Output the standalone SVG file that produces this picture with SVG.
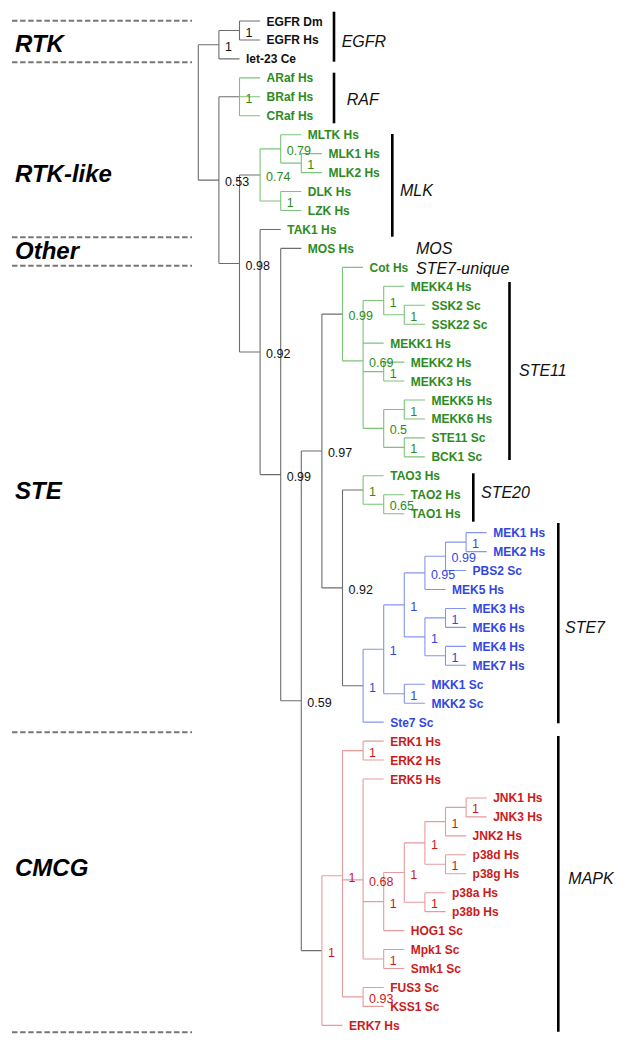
<svg xmlns="http://www.w3.org/2000/svg" width="629" height="1048" viewBox="0 0 629 1048">
<style>
.tr{fill:none;stroke-width:1.1}
.g0{stroke:#6e6e6e}.gG{stroke:#7cc47a}.gB{stroke:#8595ee}.gR{stroke:#e79a9c}
.lf{font-family:"Liberation Sans",Arial,sans-serif;font-size:12px;font-weight:bold}
.lb{font-family:"Liberation Sans",Arial,sans-serif;font-size:12.5px}
.kB{fill:#111}.kG{fill:#2e8b22}.kU{fill:#3347e0}.kR{fill:#cc1a1a}
.cl{font-family:"Liberation Sans",Arial,sans-serif;font-size:16px;font-style:italic;fill:#111}
.ct{font-family:"Liberation Sans",Arial,sans-serif;font-size:24px;font-style:italic;font-weight:bold;fill:#000}
.dash{stroke:#777;stroke-width:2;stroke-dasharray:5.5 2.6;fill:none}
.bar{stroke:#000;stroke-width:2.6;fill:none}
</style>
<g id="separators">
<path class="dash" d="M12 20.7H192M12 62.3H192M12 237.3H192M12 265.7H192M12 732.3H192M12 1032.3H192"/>
</g>
<g id="categories">
<text class="ct" x="15" y="52">RTK</text>
<text class="ct" x="15" y="182">RTK-like</text>
<text class="ct" x="15" y="259">Other</text>
<text class="ct" x="15" y="499">STE</text>
<text class="ct" x="15" y="876">CMCG</text>
</g>
<g id="connectors">
<path class="tr g0" d="M198.3 44.7V180.15M198.3 44.7H218.9M198.3 180.15H218.9
M218.9 30.5V58.9M218.9 30.5H239.5M218.9 58.9H239.5
M239.5 21V39.95M239.5 21H260.1M239.5 39.95H260.1
M218.9 96.8V263.5M218.9 96.8H239.5M218.9 263.5H239.5
M239.5 174.95V352M239.5 174.95H260.1M239.5 352H260.1
M260.1 229.45V474.6M260.1 229.45H280.7M260.1 474.6H280.7
M280.7 248.4V700.8M280.7 248.4H301.3M280.7 700.8H301.3
M301.3 451V950.6M301.3 451H321.9M301.3 950.6H321.9
M321.9 314.1V587.9M321.9 314.1H342.5M321.9 587.9H342.5
M342.5 490V685.7M342.5 490H363.1M342.5 685.7H363.1"/>
<path class="tr gG" d="M239.5 77.85V115.75M239.5 77.85H260.1M239.5 96.8H260.1M239.5 115.75H260.1
M260.1 148.9V201M260.1 148.9H280.7M260.1 201H280.7
M280.7 134.7V163.1M280.7 134.7H301.3M280.7 163.1H301.3
M301.3 153.65V172.6M301.3 153.65H321.9M301.3 172.6H321.9
M280.7 191.55V210.5M280.7 191.55H301.3M280.7 210.5H301.3
M342.5 267.35V360.9M342.5 267.35H363.1M342.5 360.9H363.1
M363.1 300.5V428.4M363.1 300.5H383.7M363.1 343.15H383.7M363.1 371.6H383.7M363.1 428.4H383.7
M383.7 286.3V314.7M383.7 286.3H404.3M383.7 314.7H404.3
M404.3 305.25V324.2M404.3 305.25H424.9M404.3 324.2H424.9
M383.7 362.1V381.05M383.7 362.1H404.3M383.7 381.05H404.3
M383.7 409.5V447.4M383.7 409.5H404.3M383.7 447.4H404.3
M404.3 400V418.95M404.3 400H424.9M404.3 418.95H424.9
M404.3 437.9V456.85M404.3 437.9H424.9M404.3 456.85H424.9
M363.1 475.8V504.2M363.1 475.8H383.7M363.1 504.2H383.7
M383.7 494.75V513.7M383.7 494.75H404.3M383.7 513.7H404.3"/>
<path class="tr gB" d="M363.1 649.3V722.15M363.1 649.3H383.7M363.1 722.15H383.7
M383.7 604.9V693.7M383.7 604.9H404.3M383.7 693.7H404.3
M404.3 684.25V703.2M404.3 684.25H424.9M404.3 703.2H424.9
M404.3 572.9V636.9M404.3 572.9H424.9M404.3 636.9H424.9
M424.9 556.3V589.5M424.9 556.3H445.5M424.9 589.5H445.5
M445.5 542.1V570.55M445.5 542.1H466.1M445.5 570.55H466.1
M466.1 532.65V551.6M466.1 532.65H486.7M466.1 551.6H486.7
M424.9 617.9V655.8M424.9 617.9H445.5M424.9 655.8H445.5
M445.5 608.45V627.4M445.5 608.45H466.1M445.5 627.4H466.1
M445.5 646.35V665.3M445.5 646.35H466.1M445.5 665.3H466.1"/>
<path class="tr gR" d="M321.9 875.8V1025.35M321.9 875.8H342.5M321.9 1025.35H342.5
M342.5 750.6V996.9M342.5 750.6H363.1M342.5 879.9H363.1M342.5 996.9H363.1
M363.1 741.1V760.05M363.1 741.1H383.7M363.1 760.05H383.7
M363.1 779V959M363.1 779H383.7M363.1 901.6H383.7M363.1 959H383.7
M383.7 872.5V930.6M383.7 872.5H404.3M383.7 930.6H404.3
M404.3 842.9V902.2M404.3 842.9H424.9M404.3 902.2H424.9
M424.9 821.6V864.3M424.9 821.6H445.5M424.9 864.3H445.5
M445.5 807.4V835.85M445.5 807.4H466.1M445.5 835.85H466.1
M466.1 797.95V816.9M466.1 797.95H486.7M466.1 816.9H486.7
M445.5 854.8V873.75M445.5 854.8H466.1M445.5 873.75H466.1
M424.9 892.7V911.65M424.9 892.7H445.5M424.9 911.65H445.5
M383.7 949.55V968.5M383.7 949.55H404.3M383.7 968.5H404.3
M363.1 987.45V1006.4M363.1 987.45H383.7M363.1 1006.4H383.7"/>
</g>
<g id="support-values" class="lb">
<text class="kB" x="245.5" y="36.5">1</text>
<text class="kB" x="224.9" y="50.7">1</text>
<text class="kB" x="224.9" y="186.15">0.53</text>
<text class="kB" x="245.5" y="269.5">0.98</text>
<text class="kB" x="266.1" y="358">0.92</text>
<text class="kB" x="286.7" y="480.6">0.99</text>
<text class="kB" x="307.3" y="706.8">0.59</text>
<text class="kB" x="327.9" y="457">0.97</text>
<text class="kB" x="348.5" y="593.9">0.92</text>
<text class="kG" x="245.5" y="102.8">1</text>
<text class="kG" x="266.1" y="180.95">0.74</text>
<text class="kG" x="286.7" y="154.9">0.79</text>
<text class="kG" x="307.3" y="169.1">1</text>
<text class="kG" x="286.7" y="207">1</text>
<text class="kG" x="348.5" y="320.1">0.99</text>
<text class="kG" x="369.1" y="366.9">0.69</text>
<text class="kG" x="389.7" y="306.5">1</text>
<text class="kG" x="410.3" y="320.7">1</text>
<text class="kG" x="389.7" y="377.6">1</text>
<text class="kG" x="389.7" y="434.4">0.5</text>
<text class="kG" x="410.3" y="415.5">1</text>
<text class="kG" x="410.3" y="453.4">1</text>
<text class="kG" x="369.1" y="496">1</text>
<text class="kG" x="389.7" y="510.2">0.65</text>
<text class="kU" x="369.1" y="691.7">1</text>
<text class="kU" x="389.7" y="655.3">1</text>
<text class="kU" x="410.3" y="699.7">1</text>
<text class="kU" x="410.3" y="610.9">1</text>
<text class="kU" x="430.9" y="578.9">0.95</text>
<text class="kU" x="451.5" y="562.3">0.99</text>
<text class="kU" x="472.1" y="548.1">1</text>
<text class="kU" x="430.9" y="642.9">1</text>
<text class="kU" x="451.5" y="623.9">1</text>
<text class="kU" x="451.5" y="661.8">1</text>
<text class="kR" x="327.9" y="956.6">1</text>
<text class="kR" x="348.5" y="881.8">1</text>
<text class="kR" x="369.1" y="756.6">1</text>
<text class="kR" x="369.1" y="885.9">0.68</text>
<text class="kR" x="389.7" y="907.6">1</text>
<text class="kR" x="410.3" y="878.5">1</text>
<text class="kR" x="430.9" y="848.9">1</text>
<text class="kR" x="451.5" y="827.6">1</text>
<text class="kR" x="472.1" y="813.4">1</text>
<text class="kR" x="451.5" y="870.3">1</text>
<text class="kR" x="430.9" y="908.2">1</text>
<text class="kR" x="389.7" y="965">1</text>
<text class="kR" x="369.1" y="1002.9">0.93</text>
</g>
<g id="leaves" class="lf">
<g id="leaf-egfr-dm"><text class="kB" x="266.6" y="25.5">EGFR Dm</text></g>
<g id="leaf-egfr-hs"><text class="kB" x="266.6" y="44.45">EGFR Hs</text></g>
<g id="leaf-let23"><text class="kB" x="246" y="63.4">let-23 Ce</text></g>
<g id="leaf-araf"><text class="kG" x="266.6" y="82.35">ARaf Hs</text></g>
<g id="leaf-braf"><text class="kG" x="266.6" y="101.3">BRaf Hs</text></g>
<g id="leaf-craf"><text class="kG" x="266.6" y="120.25">CRaf Hs</text></g>
<g id="leaf-mltk"><text class="kG" x="307.8" y="139.2">MLTK Hs</text></g>
<g id="leaf-mlk1"><text class="kG" x="328.4" y="158.15">MLK1 Hs</text></g>
<g id="leaf-mlk2"><text class="kG" x="328.4" y="177.1">MLK2 Hs</text></g>
<g id="leaf-dlk"><text class="kG" x="307.8" y="196.05">DLK Hs</text></g>
<g id="leaf-lzk"><text class="kG" x="307.8" y="215">LZK Hs</text></g>
<g id="leaf-tak1"><text class="kG" x="287.2" y="233.95">TAK1 Hs</text></g>
<g id="leaf-mos"><text class="kG" x="307.8" y="252.9">MOS Hs</text></g>
<g id="leaf-cot"><text class="kG" x="369.6" y="271.85">Cot Hs</text></g>
<g id="leaf-mekk4"><text class="kG" x="410.8" y="290.8">MEKK4 Hs</text></g>
<g id="leaf-ssk2"><text class="kG" x="431.4" y="309.75">SSK2 Sc</text></g>
<g id="leaf-ssk22"><text class="kG" x="431.4" y="328.7">SSK22 Sc</text></g>
<g id="leaf-mekk1"><text class="kG" x="390.2" y="347.65">MEKK1 Hs</text></g>
<g id="leaf-mekk2"><text class="kG" x="410.8" y="366.6">MEKK2 Hs</text></g>
<g id="leaf-mekk3"><text class="kG" x="410.8" y="385.55">MEKK3 Hs</text></g>
<g id="leaf-mekk5"><text class="kG" x="431.4" y="404.5">MEKK5 Hs</text></g>
<g id="leaf-mekk6"><text class="kG" x="431.4" y="423.45">MEKK6 Hs</text></g>
<g id="leaf-ste11"><text class="kG" x="431.4" y="442.4">STE11 Sc</text></g>
<g id="leaf-bck1"><text class="kG" x="431.4" y="461.35">BCK1 Sc</text></g>
<g id="leaf-tao3"><text class="kG" x="390.2" y="480.3">TAO3 Hs</text></g>
<g id="leaf-tao2"><text class="kG" x="410.8" y="499.25">TAO2 Hs</text></g>
<g id="leaf-tao1"><text class="kG" x="410.8" y="518.2">TAO1 Hs</text></g>
<g id="leaf-mek1"><text class="kU" x="493.2" y="537.15">MEK1 Hs</text></g>
<g id="leaf-mek2"><text class="kU" x="493.2" y="556.1">MEK2 Hs</text></g>
<g id="leaf-pbs2"><text class="kU" x="472.6" y="575.05">PBS2 Sc</text></g>
<g id="leaf-mek5"><text class="kU" x="452" y="594">MEK5 Hs</text></g>
<g id="leaf-mek3"><text class="kU" x="472.6" y="612.95">MEK3 Hs</text></g>
<g id="leaf-mek6"><text class="kU" x="472.6" y="631.9">MEK6 Hs</text></g>
<g id="leaf-mek4"><text class="kU" x="472.6" y="650.85">MEK4 Hs</text></g>
<g id="leaf-mek7"><text class="kU" x="472.6" y="669.8">MEK7 Hs</text></g>
<g id="leaf-mkk1"><text class="kU" x="431.4" y="688.75">MKK1 Sc</text></g>
<g id="leaf-mkk2"><text class="kU" x="431.4" y="707.7">MKK2 Sc</text></g>
<g id="leaf-ste7"><text class="kU" x="390.2" y="726.65">Ste7 Sc</text></g>
<g id="leaf-erk1"><text class="kR" x="390.2" y="745.6">ERK1 Hs</text></g>
<g id="leaf-erk2"><text class="kR" x="390.2" y="764.55">ERK2 Hs</text></g>
<g id="leaf-erk5"><text class="kR" x="390.2" y="783.5">ERK5 Hs</text></g>
<g id="leaf-jnk1"><text class="kR" x="493.2" y="802.45">JNK1 Hs</text></g>
<g id="leaf-jnk3"><text class="kR" x="493.2" y="821.4">JNK3 Hs</text></g>
<g id="leaf-jnk2"><text class="kR" x="472.6" y="840.35">JNK2 Hs</text></g>
<g id="leaf-p38d"><text class="kR" x="472.6" y="859.3">p38d Hs</text></g>
<g id="leaf-p38g"><text class="kR" x="472.6" y="878.25">p38g Hs</text></g>
<g id="leaf-p38a"><text class="kR" x="452" y="897.2">p38a Hs</text></g>
<g id="leaf-p38b"><text class="kR" x="452" y="916.15">p38b Hs</text></g>
<g id="leaf-hog1"><text class="kR" x="410.8" y="935.1">HOG1 Sc</text></g>
<g id="leaf-mpk1"><text class="kR" x="410.8" y="954.05">Mpk1 Sc</text></g>
<g id="leaf-smk1"><text class="kR" x="410.8" y="973">Smk1 Sc</text></g>
<g id="leaf-fus3"><text class="kR" x="390.2" y="991.95">FUS3 Sc</text></g>
<g id="leaf-kss1"><text class="kR" x="390.2" y="1010.9">KSS1 Sc</text></g>
<g id="leaf-erk7"><text class="kR" x="349" y="1029.85">ERK7 Hs</text></g>
</g>
<g id="clades">
<g id="clade-egfr"><path class="bar" d="M334 11.7V61.7"/><text class="cl" x="341.7" y="46.5">EGFR</text></g>
<g id="clade-raf"><path class="bar" d="M334 72.7V123.3"/><text class="cl" x="346.7" y="104.7">RAF</text></g>
<g id="clade-mlk"><path class="bar" d="M392.3 134V236.7"/><text class="cl" x="400" y="196.4">MLK</text></g>
<g id="clade-mos"><text class="cl" x="416" y="254">MOS</text></g>
<g id="clade-ste7u"><text class="cl" x="416" y="274">STE7-unique</text></g>
<g id="clade-ste11"><path class="bar" d="M509.5 282V460"/><text class="cl" x="519" y="375.7">STE11</text></g>
<g id="clade-ste20"><path class="bar" d="M473.3 473.3V521.7"/><text class="cl" x="481" y="498.4">STE20</text></g>
<g id="clade-ste7"><path class="bar" d="M558.3 523V723.3"/><text class="cl" x="565" y="633">STE7</text></g>
<g id="clade-mapk"><path class="bar" d="M558.3 736V1031.7"/><text class="cl" x="568.3" y="884">MAPK</text></g>
</g>
</svg>
